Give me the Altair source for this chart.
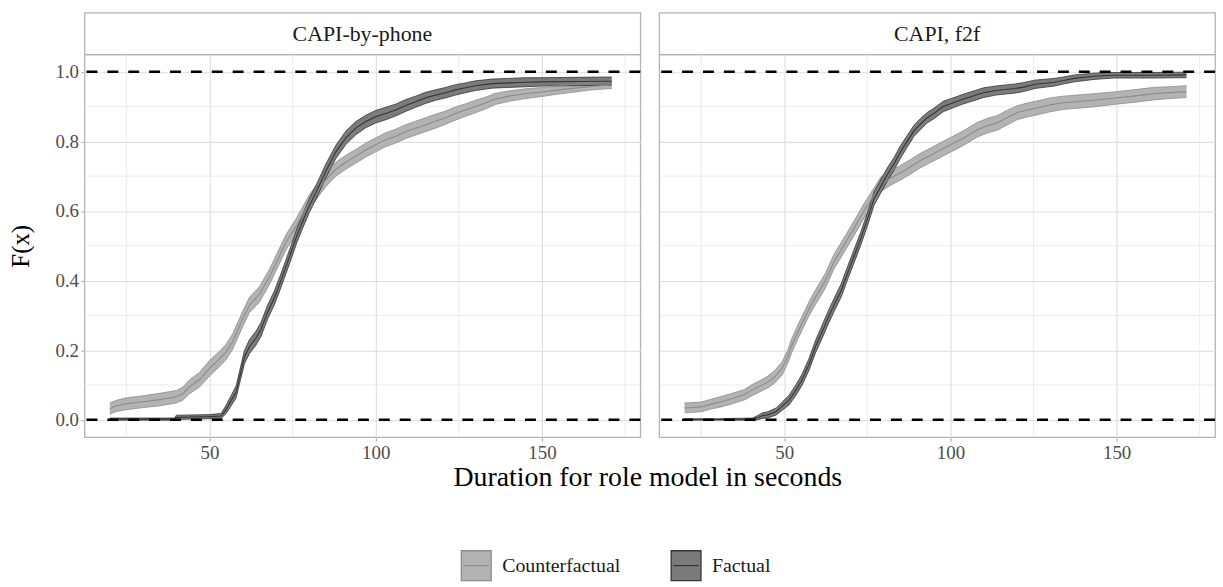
import altair as alt
import pandas as pd

FONT = "Liberation Serif"
PANELS = ["CAPI-by-phone", "CAPI, f2f"]
SERIES = ["Counterfactual", "Factual"]
X_TITLE = "Duration for role model in seconds"

# ---- CAPI-by-phone -------------------------------------------------------
phone_cf_x = [20, 22, 25, 30, 35, 40, 42, 44, 47, 50, 53, 55, 57, 60, 62, 65, 68, 70, 73, 76,
              78, 80, 83, 85, 88, 91, 94, 97, 100, 103, 106, 109, 112, 115, 118, 121, 124, 127,
              130, 133, 136, 140, 145, 150, 155, 160, 165, 171]
phone_cf_mid = [0.032, 0.040, 0.046, 0.052, 0.058, 0.066, 0.075, 0.095, 0.115, 0.148, 0.175,
                0.195, 0.225, 0.29, 0.33, 0.36, 0.41, 0.45, 0.51, 0.555, 0.59, 0.625, 0.665,
                0.69, 0.72, 0.74, 0.757, 0.775, 0.79, 0.805, 0.815, 0.828, 0.838, 0.848, 0.858,
                0.868, 0.88, 0.89, 0.90, 0.91, 0.922, 0.93, 0.937, 0.942, 0.948, 0.953, 0.958,
                0.962]
phone_cf_hw = [0.016, 0.016, 0.017, 0.017, 0.018, 0.018, 0.019, 0.02, 0.021, 0.022, 0.022,
               0.022, 0.022, 0.022, 0.022, 0.022, 0.022, 0.022, 0.022, 0.022, 0.021, 0.021,
               0.02, 0.02, 0.02, 0.02, 0.02, 0.02, 0.02, 0.02, 0.02, 0.02, 0.02, 0.02,
               0.02, 0.019, 0.019, 0.018, 0.018, 0.017, 0.016, 0.015, 0.014, 0.013, 0.012,
               0.011, 0.01, 0.01]

phone_f_x = [20, 30, 39.5, 40, 45, 50, 53.5, 55, 56.5, 58, 59, 60.5, 62, 64, 65.5, 67.5, 69.5,
             71.5, 73, 74.5, 76.3, 78, 80, 82.2, 85, 88, 91, 94, 97, 100, 103, 106, 109, 112,
             115, 118, 121, 124, 127, 130, 135, 140, 145, 150, 160, 171]
phone_f_mid = [0.002, 0.002, 0.002, 0.007, 0.008, 0.009, 0.011, 0.03, 0.055, 0.08, 0.12, 0.18,
               0.21, 0.235, 0.26, 0.31, 0.35, 0.40, 0.44, 0.48, 0.53, 0.57, 0.615, 0.657,
               0.715, 0.77, 0.81, 0.838, 0.857, 0.871, 0.88, 0.89, 0.903, 0.914, 0.925, 0.933,
               0.94, 0.948, 0.954, 0.96, 0.966, 0.968, 0.97, 0.971, 0.972, 0.973]
phone_f_hw = [0.003, 0.003, 0.003, 0.006, 0.006, 0.006, 0.007, 0.012, 0.015, 0.017, 0.018,
              0.019, 0.02, 0.02, 0.02, 0.02, 0.02, 0.02, 0.02, 0.02, 0.02, 0.02,
              0.02, 0.02, 0.02, 0.019, 0.019, 0.019, 0.018, 0.018, 0.018, 0.017, 0.017,
              0.016, 0.016, 0.015, 0.015, 0.015, 0.014, 0.014, 0.013, 0.013, 0.013, 0.012,
              0.012, 0.012]

# ---- CAPI, f2f -------------------------------------------------------------
f2f_cf_x = [20, 25, 28, 31, 34, 36, 38, 40.5, 43, 45, 47, 49.4, 51, 52.3, 54, 55.3, 57.5, 59.4,
            62.4, 65, 68.5, 71, 74, 77, 79, 82, 85, 88, 91, 94, 97, 100, 104, 108, 111, 114,
            117, 120, 123, 126, 130, 134, 138, 143, 149, 155, 161, 166, 171]
f2f_cf_mid = [0.034, 0.037, 0.045, 0.052, 0.06, 0.066, 0.072, 0.086, 0.098, 0.108, 0.122,
              0.148, 0.18, 0.214, 0.25, 0.276, 0.32, 0.352, 0.40, 0.455, 0.51, 0.55, 0.60,
              0.645, 0.676, 0.695, 0.71, 0.727, 0.745, 0.76, 0.775, 0.79, 0.81, 0.833, 0.845,
              0.853, 0.868, 0.882, 0.89, 0.896, 0.905, 0.911, 0.914, 0.918, 0.924, 0.93, 0.937,
              0.94, 0.943]
f2f_cf_hw = [0.014, 0.014, 0.014, 0.015, 0.015, 0.015, 0.015, 0.016, 0.016, 0.017, 0.018,
             0.019, 0.019, 0.02, 0.02, 0.02, 0.02, 0.021, 0.021, 0.021, 0.021, 0.021,
             0.021, 0.021, 0.021, 0.021, 0.021, 0.021, 0.021, 0.021, 0.021, 0.021, 0.021,
             0.021, 0.021, 0.021, 0.021, 0.02, 0.02, 0.02, 0.02, 0.019, 0.019, 0.019,
             0.018, 0.018, 0.018, 0.017, 0.017]

f2f_f_x = [20, 30, 40.5, 42, 43.5, 45, 47.6, 49.5, 51.5, 53.5, 55.3, 57.5, 59.4, 61.5, 63.3,
           65, 67.1, 69, 71, 73, 75, 77, 79, 81, 83, 85, 87, 89, 91, 93, 95, 97.8, 101.7, 104,
           107.7, 110, 113.6, 119.5, 122, 125.4, 131.3, 134, 137.3, 143.2, 149, 160, 171]
f2f_f_mid = [0.001, 0.001, 0.002, 0.006, 0.012, 0.014, 0.024, 0.04, 0.057, 0.085, 0.114, 0.16,
             0.21, 0.255, 0.295, 0.33, 0.371, 0.42, 0.47, 0.52, 0.575, 0.635, 0.67, 0.705,
             0.735, 0.77, 0.80, 0.83, 0.85, 0.868, 0.88, 0.90, 0.914, 0.922, 0.933, 0.94,
             0.946, 0.952, 0.956, 0.964, 0.97, 0.975, 0.981, 0.987, 0.99, 0.99, 0.991]
f2f_f_hw = [0.002, 0.002, 0.003, 0.006, 0.008, 0.009, 0.01, 0.012, 0.014, 0.015, 0.016, 0.017,
            0.018, 0.019, 0.019, 0.019, 0.019, 0.019, 0.019, 0.019, 0.019, 0.019, 0.019,
            0.019, 0.018, 0.018, 0.017, 0.016, 0.016, 0.015, 0.015, 0.015, 0.014, 0.014,
            0.014, 0.014, 0.013, 0.013, 0.013, 0.012, 0.011, 0.01, 0.01, 0.009, 0.008, 0.008,
            0.008]

x_major = [50, 100, 150]
x_minor = [25, 75, 125, 175]
y_major = [0.0, 0.2, 0.4, 0.6, 0.8, 1.0]
y_minor = [0.1, 0.3, 0.5, 0.7, 0.9]
ref_levels = [0.0, 1.0]


def band(panel, series, xs, mids, hws):
    return pd.DataFrame({
        "panel": panel, "series": series, "x": xs, "mid": mids,
        "lo": [m - h for m, h in zip(mids, hws)],
        "hi": [m + h for m, h in zip(mids, hws)],
    })


bands = pd.concat([
    band(PANELS[0], SERIES[0], phone_cf_x, phone_cf_mid, phone_cf_hw),
    band(PANELS[0], SERIES[1], phone_f_x, phone_f_mid, phone_f_hw),
    band(PANELS[1], SERIES[0], f2f_cf_x, f2f_cf_mid, f2f_cf_hw),
    band(PANELS[1], SERIES[1], f2f_f_x, f2f_f_mid, f2f_f_hw),
], ignore_index=True)

PANEL_W, PANEL_H, STRIP_H, GAP = 559, 385, 42, 15

fill_scale = alt.Scale(domain=SERIES, range=["#b3b3b3", "#7b7b7b"])
stroke_scale = alt.Scale(domain=SERIES, range=["#8c8c8c", "#363636"])
x_scale = alt.Scale(domain=[12.4, 179.6], nice=False, zero=False)
y_scale = alt.Scale(domain=[-0.05, 1.05], nice=False, zero=False)

legend = alt.Legend(
    title=None, orient="none", direction="horizontal", legendX=378, legendY=540,
    symbolType="M-1,-1H1V1H-1Z M-0.85,0H0.85", symbolSize=900, symbolStrokeWidth=1.3,
    labelFont=FONT, labelFontSize=20, labelColor="#1a1a1a", labelOffset=10,
    columnPadding=48,
)


def panel_chart(i):
    first = i == 0
    d = bands[bands.panel == PANELS[i]]
    x_axis = alt.Axis(values=x_major, title=None)
    if first:
        y_axis = alt.Axis(values=y_major, format=".1f", title="F(x)", titleX=-64,
                          titleY=PANEL_H / 2, titleAlign="center", titleBaseline="middle",
                          titleAngle=270)
    else:
        y_axis = alt.Axis(values=y_major, labels=False, ticks=False, title=None)

    base = alt.Chart(d)
    x_enc = alt.X("x:Q", scale=x_scale, axis=x_axis)

    minor_v = alt.Chart(pd.DataFrame({"v": x_minor})).mark_rule(
        color="#e4e4e4", strokeWidth=0.7).encode(x=alt.X("v:Q", scale=x_scale, axis=x_axis))
    minor_h = alt.Chart(pd.DataFrame({"v": y_minor})).mark_rule(
        color="#e4e4e4", strokeWidth=0.7).encode(y=alt.Y("v:Q", scale=y_scale, axis=y_axis))

    area = base.mark_area(strokeWidth=0).encode(
        x=x_enc,
        y=alt.Y("lo:Q", scale=y_scale, axis=y_axis),
        y2="hi:Q",
        fill=alt.Fill("series:N", scale=fill_scale, legend=legend if first else None),
        stroke=alt.Stroke("series:N", scale=stroke_scale, legend=legend if first else None),
    )
    edge_lo = base.mark_line(strokeWidth=0.8).encode(
        x=x_enc, y=alt.Y("lo:Q", scale=y_scale, axis=y_axis),
        stroke=alt.Stroke("series:N", scale=stroke_scale, legend=None))
    edge_hi = base.mark_line(strokeWidth=0.8).encode(
        x=x_enc, y=alt.Y("hi:Q", scale=y_scale, axis=y_axis),
        stroke=alt.Stroke("series:N", scale=stroke_scale, legend=None))
    center = base.mark_line(strokeWidth=1.1).encode(
        x=x_enc, y=alt.Y("mid:Q", scale=y_scale, axis=y_axis),
        stroke=alt.Stroke("series:N", scale=stroke_scale, legend=None))
    refs = alt.Chart(pd.DataFrame({"v": ref_levels})).mark_rule(
        color="black", strokeWidth=2.4, strokeDash=[11, 10]).encode(
        y=alt.Y("v:Q", scale=y_scale, axis=y_axis))

    plot = alt.layer(minor_v, minor_h, area, edge_lo, edge_hi, center, refs).properties(
        width=PANEL_W, height=PANEL_H)

    strip = alt.Chart(pd.DataFrame({"panel": [PANELS[i]]})).mark_text(
        font=FONT, fontSize=22, color="#1a1a1a", baseline="middle", align="center").encode(
        text="panel:N", x=alt.value(PANEL_W / 2), y=alt.value(STRIP_H / 2 + 1)).properties(
        width=PANEL_W, height=STRIP_H)

    return alt.vconcat(strip, plot, spacing=0, bounds="flush")


# shared x-axis title, centred under both panels
x_title = alt.Chart(pd.DataFrame({"t": [X_TITLE]})).mark_text(
    font=FONT, fontSize=28, color="#000000", baseline="alphabetic", align="center").encode(
    text="t:N", x=alt.value((2 * PANEL_W + GAP) / 2), y=alt.value(14)).properties(
    width=2 * PANEL_W + GAP, height=22,
    view=alt.ViewBackground(stroke="transparent"))

panels = alt.hconcat(panel_chart(0), panel_chart(1), spacing=GAP)

chart = alt.vconcat(panels, x_title, spacing=0).properties(
    padding={"left": 8, "top": 10, "right": 6, "bottom": 5},
    background="white",
).configure_view(
    stroke="#b3b3b3", strokeWidth=1.3,
).configure_axis(
    labelFont=FONT, labelFontSize=19, labelColor="#4d4d4d", labelPadding=2,
    tickColor="#b3b3b3", tickSize=4, tickWidth=1.1, domain=False,
    gridColor="#dedede", gridWidth=1.1,
    titleFont=FONT, titleFontSize=25, titleColor="#000000", titleFontWeight="normal",
)

chart.save("out.html", embed_options={"renderer": "svg", "actions": False})
